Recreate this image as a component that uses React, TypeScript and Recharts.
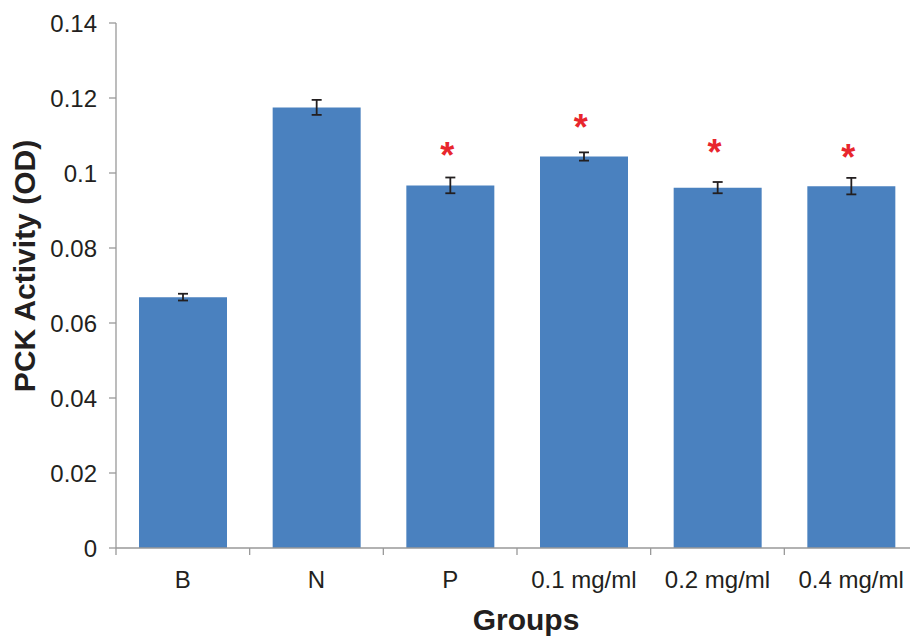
import React from 'react';
import { ComposedChart, Bar, XAxis, YAxis, ErrorBar, Scatter } from 'recharts';

const groups = ['B', 'N', 'P', '0.1 mg/ml', '0.2 mg/ml', '0.4 mg/ml'];
const activity = [0.0669, 0.1175, 0.0967, 0.1044, 0.0961, 0.0965];
const sem = [0.0009, 0.002, 0.0021, 0.0011, 0.0015, 0.0022];
const starLevel: (number | null)[] = [null, null, 0.1069, 0.1145, 0.1077, 0.1063];
const yTicks = [0, 0.02, 0.04, 0.06, 0.08, 0.1, 0.12, 0.14];

const data = groups.map((g, i) => ({
  group: g,
  activity: activity[i],
  sem: sem[i],
  star: starLevel[i],
}));

const W = 930;
const H = 637;
const MARGIN = { top: 23, right: 12, bottom: 0, left: 0 };
const YAXIS_W = 116;
const XAXIS_H = 89;
const BAND = (W - MARGIN.left - MARGIN.right - YAXIS_W) / groups.length;
const FONT = '"Liberation Sans", Arial, Helvetica, sans-serif';
const AXIS_COLOR = '#999999';
const TEXT_COLOR = '#231f20';
const BAR_COLOR = '#4a81bf';
const STAR_COLOR = '#e8262d';

const XTick = (props: any) => {
  const { x, y, payload } = props;
  const bx = x - BAND / 2;
  return (
    <g>
      <line x1={bx} y1={y} x2={bx} y2={y + 7} stroke={AXIS_COLOR} strokeWidth={1.3} />
      <text x={x} y={y + 40} textAnchor="middle" fontSize={24} fontFamily={FONT} fill={TEXT_COLOR}>
        {payload.value}
      </text>
    </g>
  );
};

const StarShape = (props: any) => {
  const { cx, cy, payload } = props;
  if (!payload || payload.star == null || cx == null || cy == null || isNaN(cy)) return null;
  return (
    <text x={cx - 3} y={cy + 21} textAnchor="middle" fontSize={36} fontWeight="bold" fontFamily={FONT} fill={STAR_COLOR}>
      *
    </text>
  );
};

const YLabel = () => (
  <text
    x={35}
    y={266}
    transform="rotate(-90, 35, 266)"
    textAnchor="middle"
    fontSize={30}
    fontWeight="bold"
    fontFamily={FONT}
    fill={TEXT_COLOR}
  >
    PCK Activity (OD)
  </text>
);

const XLabel = () => (
  <text x={526} y={630} textAnchor="middle" fontSize={30} fontWeight="bold" fontFamily={FONT} fill={TEXT_COLOR}>
    Groups
  </text>
);

const fmt = (v: number) => String(Number(v.toFixed(2)));

export default function App() {
  return (
    <div style={{ position: 'absolute', left: 0, top: 0, width: 910, height: 637, overflow: 'hidden', background: '#fff' }}>
      <ComposedChart width={W} height={H} data={data} margin={MARGIN}>
        <XAxis
          dataKey="group"
          type="category"
          height={XAXIS_H}
          tickLine={false}
          tickSize={0}
          tickMargin={0}
          axisLine={{ stroke: AXIS_COLOR, strokeWidth: 1.3 }}
          tick={<XTick />}
          interval={0}
          label={<XLabel />}
        />
        <YAxis
          type="number"
          domain={[0, 0.14]}
          ticks={yTicks}
          width={YAXIS_W}
          tickFormatter={fmt}
          tickSize={7}
          tickMargin={12}
          axisLine={{ stroke: AXIS_COLOR, strokeWidth: 1.3 }}
          tickLine={{ stroke: AXIS_COLOR, strokeWidth: 1.3 }}
          tick={{ fontSize: 24, fontFamily: FONT, fill: TEXT_COLOR }}
          label={<YLabel />}
          allowDataOverflow
        />
        <Bar dataKey="activity" fill={BAR_COLOR} barSize={88} isAnimationActive={false}>
          <ErrorBar dataKey="sem" width={5} stroke="#231f20" strokeWidth={1.8} direction="y" />
        </Bar>
        <Scatter dataKey="star" shape={<StarShape />} isAnimationActive={false} />
      </ComposedChart>
    </div>
  );
}
